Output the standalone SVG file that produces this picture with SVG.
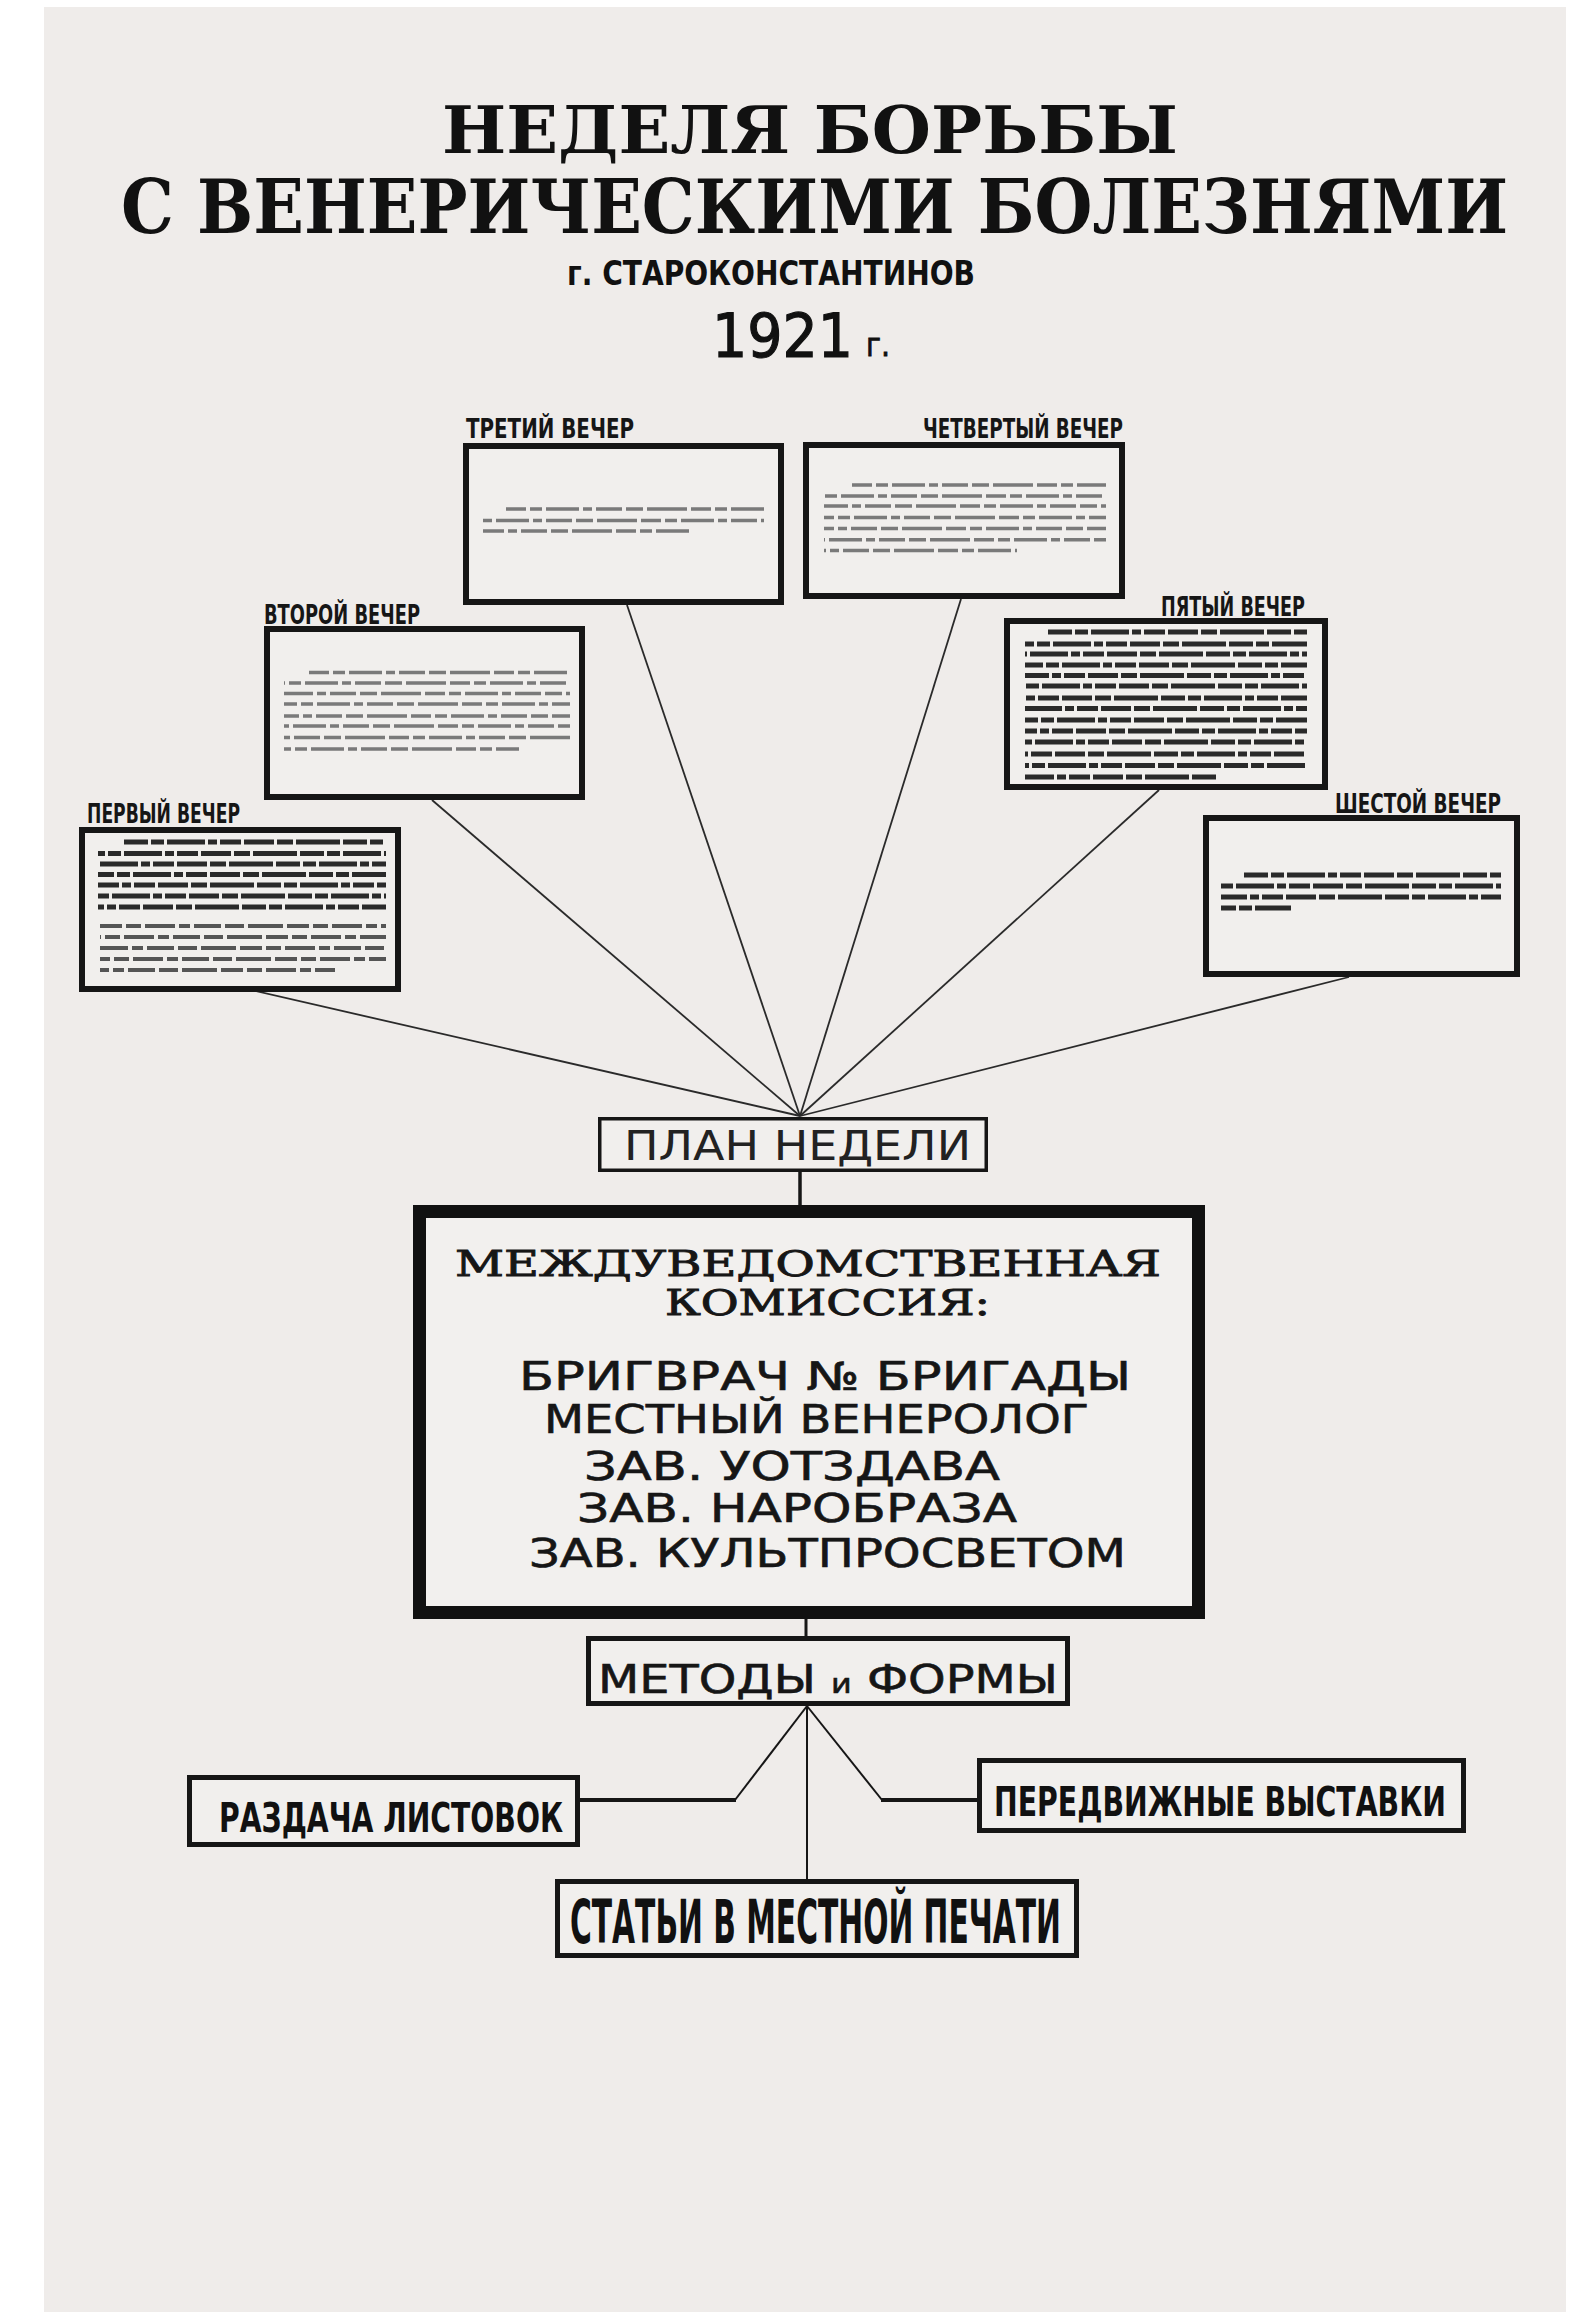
<svg xmlns="http://www.w3.org/2000/svg" width="1589" height="2312" viewBox="0 0 1589 2312">
<style>
.paper{fill:#efecea}
.ebox{fill:#f1efed;stroke:#161616;stroke-width:6}
.lbl{font-family:'DejaVu Sans Condensed','DejaVu Sans',sans-serif;font-weight:700;font-size:27px;fill:#161616}
.ttl{font-family:'DejaVu Serif Condensed','DejaVu Serif',serif;font-weight:700;fill:#111}
.ser{font-family:'DejaVu Serif','Liberation Serif',serif;font-size:36px;fill:#161616;stroke:#161616;stroke-width:0.9}
.sans{font-family:'DejaVu Sans','Liberation Sans',sans-serif;font-size:39px;fill:#161616;stroke:#161616;stroke-width:0.6}
.heavy{font-family:'DejaVu Sans Condensed','DejaVu Sans',sans-serif;font-weight:700;fill:#111}
.con{stroke:#2a2a2a;stroke-width:1.8;fill:none}
.cst{stroke:#161616;fill:none}
.gd{stroke:#2a2a2a;stroke-width:5;stroke-dasharray:24 3 13 3 38 3 9 3 21 3 30 3 16 3 44 3}
.gl{stroke:#7a7a7a;stroke-width:3.5;stroke-dasharray:20 4 12 4 33 4 9 4 26 4 17 4 40 4}
.gm{stroke:#555;stroke-width:4;stroke-dasharray:22 4 15 4 30 4 11 4 27 4 19 4 35 4}
</style>
<rect x="0" y="0" width="1589" height="2312" fill="#ffffff"/>
<rect class="paper" x="44" y="7" width="1522" height="2305"/>

<g id="title">
<text class="ttl" x="442" y="153" font-size="66" textLength="736" lengthAdjust="spacingAndGlyphs">НЕДЕЛЯ БОРЬБЫ</text>
<text class="ttl" x="121" y="233" font-size="75" textLength="1387" lengthAdjust="spacingAndGlyphs">С ВЕНЕРИЧЕСКИМИ БОЛЕЗНЯМИ</text>
<text class="heavy" x="567" y="285" font-size="34" textLength="408" lengthAdjust="spacingAndGlyphs">г. СТАРОКОНСТАНТИНОВ</text>
<text x="712" y="357" font-family="'DejaVu Sans','Liberation Sans',sans-serif" font-size="60" fill="#111" stroke="#111" stroke-width="1.2" textLength="141" lengthAdjust="spacingAndGlyphs">1921</text>
<text x="866" y="356" font-family="'DejaVu Sans','Liberation Sans',sans-serif" font-size="32" fill="#111" stroke="#111" stroke-width="0.8" textLength="24" lengthAdjust="spacingAndGlyphs">г.</text>
</g>

<g id="connectors">
<line class="con" x1="251" y1="990" x2="800" y2="1116"/>
<line class="con" x1="432" y1="800" x2="800" y2="1116"/>
<line class="con" x1="627" y1="605" x2="800" y2="1116"/>
<line class="con" x1="961" y1="599" x2="800" y2="1116"/>
<line class="con" x1="1159" y1="790" x2="800" y2="1116"/>
<line class="con" x1="1349" y1="977" x2="800" y2="1116"/>
<line class="cst" stroke-width="3.5" x1="800" y1="1172" x2="800" y2="1206"/>
<line class="cst" stroke-width="3" x1="806" y1="1618" x2="806" y2="1637"/>
<line class="cst" stroke-width="2" x1="807" y1="1706" x2="807" y2="1880"/>
<line class="cst" stroke-width="2" x1="807" y1="1706" x2="735" y2="1800"/>
<line class="cst" stroke-width="4" x1="736" y1="1800" x2="579" y2="1800"/>
<line class="cst" stroke-width="2" x1="807" y1="1706" x2="882" y2="1800"/>
<line class="cst" stroke-width="4" x1="881" y1="1800" x2="978" y2="1800"/>
</g>

<g id="evening1">
<text class="lbl" x="87" y="823" textLength="153" lengthAdjust="spacingAndGlyphs">ПЕРВЫЙ ВЕЧЕР</text>
<rect class="ebox" x="82" y="830" width="316" height="159"/>
<g class="gd">
<line x1="124" y1="842" x2="386" y2="842"/>
<line x1="98" y1="853.5" x2="386" y2="853.5" stroke-dashoffset="17"/>
<line x1="98" y1="864" x2="386" y2="864" stroke-dashoffset="41"/>
<line x1="98" y1="874.5" x2="386" y2="874.5" stroke-dashoffset="8"/>
<line x1="98" y1="885" x2="386" y2="885" stroke-dashoffset="60"/>
<line x1="98" y1="896" x2="386" y2="896" stroke-dashoffset="29"/>
<line x1="98" y1="907" x2="386" y2="907" stroke-dashoffset="75"/>
</g>
<g class="gm">
<line x1="100" y1="926" x2="386" y2="926"/>
<line x1="100" y1="937" x2="386" y2="937" stroke-dashoffset="21"/>
<line x1="100" y1="948" x2="386" y2="948" stroke-dashoffset="47"/>
<line x1="100" y1="959" x2="386" y2="959" stroke-dashoffset="12"/>
<line x1="100" y1="970" x2="335" y2="970" stroke-dashoffset="66"/>
</g>
</g>

<g id="evening2">
<text class="lbl" x="264" y="624" textLength="156" lengthAdjust="spacingAndGlyphs">ВТОРОЙ ВЕЧЕР</text>
<rect class="ebox" x="267" y="629" width="315" height="168"/>
<g class="gl">
<line x1="309" y1="672.5" x2="570" y2="672.5"/>
<line x1="284" y1="683" x2="570" y2="683" stroke-dashoffset="19"/>
<line x1="284" y1="693.5" x2="570" y2="693.5" stroke-dashoffset="44"/>
<line x1="284" y1="704" x2="570" y2="704" stroke-dashoffset="7"/>
<line x1="284" y1="716" x2="570" y2="716" stroke-dashoffset="58"/>
<line x1="284" y1="726" x2="570" y2="726" stroke-dashoffset="31"/>
<line x1="284" y1="737.5" x2="570" y2="737.5" stroke-dashoffset="80"/>
<line x1="284" y1="749" x2="519" y2="749" stroke-dashoffset="13"/>
</g>
</g>

<g id="evening3">
<text class="lbl" x="466" y="438" textLength="168" lengthAdjust="spacingAndGlyphs">ТРЕТИЙ ВЕЧЕР</text>
<rect class="ebox" x="466" y="446" width="315" height="156"/>
<g class="gl">
<line x1="506" y1="509" x2="764" y2="509"/>
<line x1="483" y1="520.5" x2="764" y2="520.5" stroke-dashoffset="27"/>
<line x1="483" y1="531" x2="693" y2="531" stroke-dashoffset="52"/>
</g>
</g>

<g id="evening4">
<text class="lbl" x="923" y="438" textLength="200" lengthAdjust="spacingAndGlyphs">ЧЕТВЕРТЫЙ ВЕЧЕР</text>
<rect class="ebox" x="806" y="445" width="316" height="151"/>
<g class="gl">
<line x1="852" y1="485" x2="1106" y2="485"/>
<line x1="824" y1="496" x2="1106" y2="496" stroke-dashoffset="23"/>
<line x1="824" y1="506" x2="1106" y2="506" stroke-dashoffset="49"/>
<line x1="824" y1="517.5" x2="1106" y2="517.5" stroke-dashoffset="10"/>
<line x1="824" y1="528.6" x2="1106" y2="528.6" stroke-dashoffset="63"/>
<line x1="824" y1="539.7" x2="1106" y2="539.7" stroke-dashoffset="35"/>
<line x1="824" y1="550.4" x2="1017" y2="550.4" stroke-dashoffset="71"/>
</g>
</g>

<g id="evening5">
<text class="lbl" x="1161" y="616" textLength="144" lengthAdjust="spacingAndGlyphs">ПЯТЫЙ ВЕЧЕР</text>
<rect class="ebox" x="1007" y="621" width="318" height="166"/>
<g class="gd">
<line x1="1048" y1="632" x2="1307" y2="632"/>
<line x1="1025" y1="644" x2="1307" y2="644" stroke-dashoffset="15"/>
<line x1="1025" y1="654" x2="1307" y2="654" stroke-dashoffset="38"/>
<line x1="1025" y1="665" x2="1307" y2="665" stroke-dashoffset="6"/>
<line x1="1025" y1="675.5" x2="1307" y2="675.5" stroke-dashoffset="57"/>
<line x1="1025" y1="686" x2="1307" y2="686" stroke-dashoffset="26"/>
<line x1="1025" y1="698" x2="1307" y2="698" stroke-dashoffset="83"/>
<line x1="1025" y1="708.5" x2="1307" y2="708.5" stroke-dashoffset="44"/>
<line x1="1025" y1="720" x2="1307" y2="720" stroke-dashoffset="11"/>
<line x1="1025" y1="731" x2="1307" y2="731" stroke-dashoffset="69"/>
<line x1="1025" y1="742" x2="1307" y2="742" stroke-dashoffset="33"/>
<line x1="1025" y1="754" x2="1307" y2="754" stroke-dashoffset="90"/>
<line x1="1025" y1="765.5" x2="1307" y2="765.5" stroke-dashoffset="20"/>
<line x1="1025" y1="777" x2="1219" y2="777" stroke-dashoffset="52"/>
</g>
</g>

<g id="evening6">
<text class="lbl" x="1335" y="813" textLength="166" lengthAdjust="spacingAndGlyphs">ШЕСТОЙ ВЕЧЕР</text>
<rect class="ebox" x="1206" y="818" width="311" height="156"/>
<g class="gd">
<line x1="1244" y1="875" x2="1501" y2="875"/>
<line x1="1221" y1="886" x2="1501" y2="886" stroke-dashoffset="28"/>
<line x1="1221" y1="897" x2="1501" y2="897" stroke-dashoffset="55"/>
<line x1="1221" y1="908" x2="1291" y2="908" stroke-dashoffset="9"/>
</g>
</g>

<g id="plan">
<rect x="599.75" y="1118.75" width="386.5" height="51.5" fill="#f1efed" stroke="#161616" stroke-width="3.5"/>
<text x="624" y="1160" font-family="'DejaVu Sans Condensed','DejaVu Sans',sans-serif" font-size="41" fill="#222" textLength="347" lengthAdjust="spacingAndGlyphs">ПЛАН НЕДЕЛИ</text>
</g>

<g id="commission">
<rect x="419.5" y="1211.5" width="779" height="401" fill="#f2f0ee" stroke="#111" stroke-width="13"/>
<text class="ser" x="455" y="1276" textLength="706" lengthAdjust="spacingAndGlyphs">МЕЖДУВЕДОМСТВЕННАЯ</text>
<text class="ser" x="665" y="1315" textLength="325" lengthAdjust="spacingAndGlyphs">КОМИССИЯ:</text>
<text class="sans" x="519" y="1390" textLength="612" lengthAdjust="spacingAndGlyphs">БРИГВРАЧ № БРИГАДЫ</text>
<text class="sans" x="544" y="1433" textLength="545" lengthAdjust="spacingAndGlyphs">МЕСТНЫЙ ВЕНЕРОЛОГ</text>
<text class="sans" x="584" y="1480" textLength="416" lengthAdjust="spacingAndGlyphs">ЗАВ. УОТЗДАВА</text>
<text class="sans" x="577" y="1522" textLength="440" lengthAdjust="spacingAndGlyphs">ЗАВ. НАРОБРАЗА</text>
<text class="sans" x="529" y="1567" textLength="597" lengthAdjust="spacingAndGlyphs">ЗАВ. КУЛЬТПРОСВЕТОМ</text>
</g>

<g id="methods">
<rect x="588.5" y="1638.5" width="479" height="65" fill="#f1efed" stroke="#161616" stroke-width="5"/>
<text class="sans" x="598" y="1693" font-size="44" textLength="460" lengthAdjust="spacingAndGlyphs">МЕТОДЫ <tspan font-size="26">и</tspan> ФОРМЫ</text>
</g>

<g id="leaflets">
<rect x="189.5" y="1777.5" width="388" height="67" fill="#f1efed" stroke="#161616" stroke-width="5"/>
<text class="heavy" x="219" y="1832" font-size="40" textLength="344" lengthAdjust="spacingAndGlyphs">РАЗДАЧА ЛИСТОВОК</text>
</g>

<g id="exhibitions">
<rect x="979.5" y="1760.5" width="484" height="70" fill="#f1efed" stroke="#161616" stroke-width="5"/>
<text class="heavy" x="994" y="1816" font-size="40" textLength="452" lengthAdjust="spacingAndGlyphs">ПЕРЕДВИЖНЫЕ ВЫСТАВКИ</text>
</g>

<g id="press">
<rect x="557.5" y="1881.5" width="519" height="74" fill="#f1efed" stroke="#161616" stroke-width="5"/>
<text class="heavy" x="570" y="1943" font-size="60" textLength="491" lengthAdjust="spacingAndGlyphs">СТАТЬИ В МЕСТНОЙ ПЕЧАТИ</text>
</g>
</svg>
